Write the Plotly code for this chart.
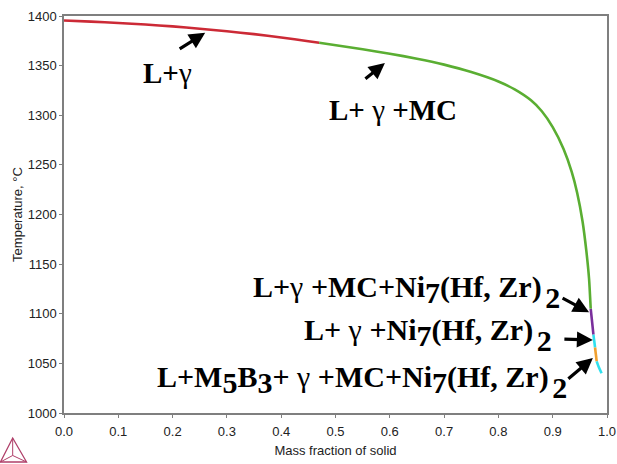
import plotly.graph_objects as go

# ---- data ----
red_x = [0.0, 0.05, 0.10, 0.15, 0.20, 0.25, 0.30, 0.35, 0.40, 0.45, 0.47]
red_T = [1395.5, 1394.3, 1393.0, 1391.4, 1389.5, 1387.2, 1384.6, 1381.7, 1378.4, 1374.6, 1373.0]

green_x = [0.47, 0.55, 0.60, 0.65, 0.70, 0.75, 0.80, 0.83, 0.86, 0.88, 0.90, 0.92, 0.935, 0.945, 0.955, 0.962, 0.967, 0.970]
green_T = [1373.0, 1366.5, 1362.0, 1357.0, 1351.0, 1343.5, 1334.0, 1326.0, 1315.0, 1304.0, 1288.0, 1266.0, 1243.0, 1222.0, 1193.0, 1163.0, 1135.0, 1105.0]

purple_x = [0.970, 0.9725, 0.975]
purple_T = [1105.0, 1092.0, 1079.0]

cyan1_x = [0.975, 0.978]
cyan1_T = [1079.0, 1066.0]

orange_x = [0.978, 0.981]
orange_T = [1066.0, 1052.0]

cyan2_x = [0.981, 0.985, 0.990]
cyan2_T = [1052.0, 1046.0, 1040.0]

x_ticks = [0.0, 0.1, 0.2, 0.3, 0.4, 0.5, 0.6, 0.7, 0.8, 0.9, 1.0]
y_ticks = [1000, 1050, 1100, 1150, 1200, 1250, 1300, 1350, 1400]

segments = [
    (red_x, red_T, "#cc2a36"),
    (green_x, green_T, "#5aae32"),
    (purple_x, purple_T, "#7a2f9c"),
    (cyan1_x, cyan1_T, "#2fe0ee"),
    (orange_x, orange_T, "#f0a030"),
    (cyan2_x, cyan2_T, "#2fe0ee"),
]

fig = go.Figure()
for xs, ts, c in segments:
    fig.add_trace(go.Scatter(x=xs, y=ts, mode="lines",
                             line=dict(color=c, width=2.6, shape="spline", smoothing=0.5),
                             showlegend=False, hoverinfo="skip"))

serif = "Liberation Serif, Times New Roman, serif"

def label(text, x, y, size, xanchor="center"):
    fig.add_annotation(x=x, y=y, xref="x", yref="y", text=text, showarrow=False,
                       font=dict(family=serif, size=size, color="black"),
                       xanchor=xanchor, yanchor="middle")

def arrow(x, y, ax, ay):
    fig.add_annotation(x=x, y=y, xref="x", yref="y", text="", showarrow=True,
                       ax=ax, ay=ay, arrowhead=2, arrowsize=1.0, arrowwidth=3.2,
                       arrowcolor="black", standoff=0)

G = "</b>γ<b>"
S2 = "<sub><sub> <span style='font-size:30px'>2</span></sub></sub>"
def sub(d):
    return "<sub><span style='font-size:30px'>%s</span></sub>" % d

label("<b>L+" + G + "</b>", 0.19, 1343, 29)
label("<b>L+ " + G + " +MC</b>", 0.606, 1305, 29)
label("<b>L+" + G + " +MC+Ni" + sub("7") + "(Hf, Zr)" + S2 + "</b>", 0.917, 1122, 30, "right")
label("<b>L+ " + G + " +Ni" + sub("7") + "(Hf, Zr)" + S2 + "</b>", 0.902, 1079, 30, "right")
label("<b>L+M" + sub("5") + "B" + sub("3") + "+ " + G + " +MC+Ni" + sub("7") + "(Hf, Zr)" + S2 + "</b>", 0.930, 1031, 30, "right")

arrow(0.26, 1383, -27, 17)
arrow(0.591, 1352.6, -21, 17)
arrow(0.967, 1101.5, -28, -15)
arrow(0.974, 1073.5, -30, -1)
arrow(0.974, 1055.4, -26, 22)

tickfont = dict(family="Liberation Sans, Arial, sans-serif", size=13, color="#222")
titlefont = dict(family="Liberation Sans, Arial, sans-serif", size=13, color="#222")
axis_common = dict(showline=True, linecolor="#7f7f7f", linewidth=1.5, mirror=True,
                   showgrid=False, zeroline=False, ticks="outside", ticklen=3,
                   tickcolor="#7f7f7f", tickwidth=1, tickfont=tickfont, automargin=False)

fig.update_xaxes(range=[0, 1.0], tickvals=x_ticks, tickformat=".1f", ticklabelstandoff=3,
                 title=dict(text="Mass fraction of solid", standoff=8, font=titlefont),
                 **axis_common)
fig.update_yaxes(range=[1000, 1400], tickvals=y_ticks,
                 title=dict(text="Temperature, °C", standoff=2, font=titlefont),
                 **axis_common)

# Thermo-Calc style logo (bottom-left)
logo_col = "#b0406a"
fig.add_shape(type="path", xref="paper", yref="paper",
              path="M -0.1170 -0.1234 L -0.0690 -0.1234 L -0.0945 -0.0630 Z",
              line=dict(color=logo_col, width=1.3))
fig.add_shape(type="path", xref="paper", yref="paper",
              path="M -0.0945 -0.0630 L -0.0945 -0.1070 M -0.1170 -0.1234 L -0.0945 -0.1070 L -0.0690 -0.1234",
              line=dict(color=logo_col, width=1.0))

fig.update_layout(width=617, height=464, margin=dict(l=64, r=10, t=16, b=51),
                  plot_bgcolor="white", paper_bgcolor="white")

fig.write_html("out.html", config={"displayModeBar": False},
               post_script="document.body.style.margin='0';")
